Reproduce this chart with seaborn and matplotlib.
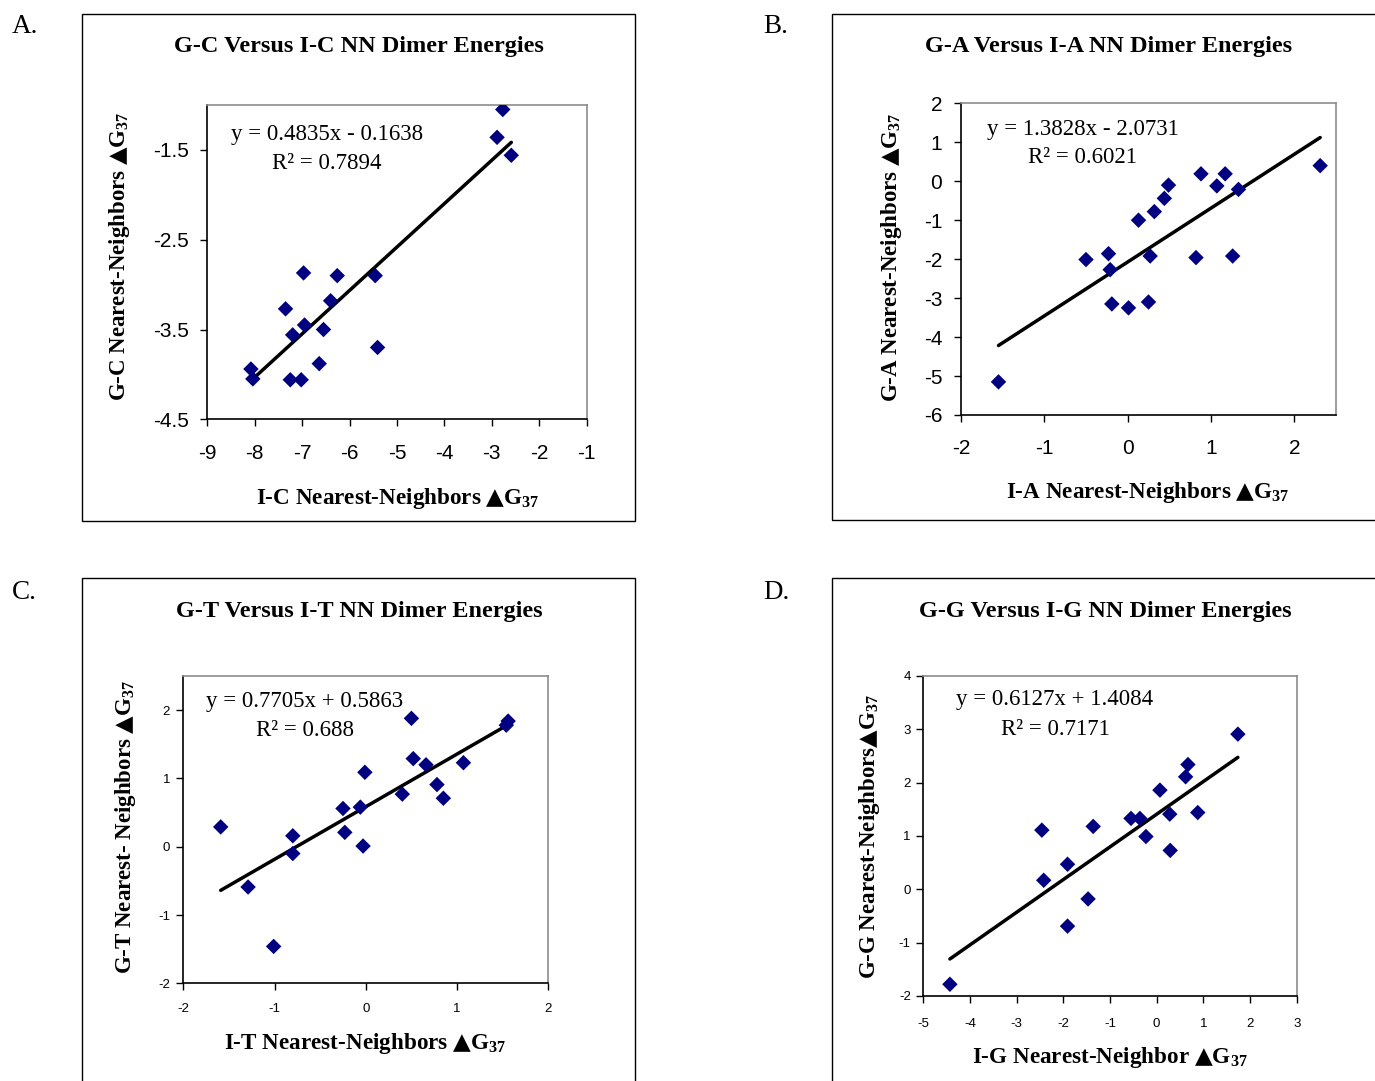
import numpy as np
import pandas as pd
import matplotlib
matplotlib.use("Agg")
import matplotlib.pyplot as plt
import seaborn as sns
from matplotlib.patches import Rectangle

# ---------------- data ----------------
ic_x = [-2.77, -2.89, -2.59, -6.97, -6.26, -5.46, -6.40, -7.35, -6.95, -6.55,
        -7.20, -5.41, -6.64, -8.08, -8.04, -7.25, -7.02]
gc_y = [-1.05, -1.36, -1.56, -2.87, -2.90, -2.90, -3.18, -3.27, -3.45, -3.50,
        -3.56, -3.70, -3.88, -3.94, -4.05, -4.06, -4.06]

ia_x = [2.31, 0.88, 1.17, 1.07, 0.49, 1.33, 0.44, 0.32, 0.13, -0.23,
        -0.50, 0.27, 0.82, 1.26, -0.21, -0.19, 0.01, 0.25, -1.55]
ga_y = [0.40, 0.19, 0.19, -0.12, -0.10, -0.21, -0.44, -0.78, -1.00, -1.86,
        -2.01, -1.92, -1.96, -1.92, -2.27, -3.15, -3.25, -3.10, -5.15]

it_x = [1.56, 1.54, 0.50, 0.52, 0.66, 1.07, -0.01, 0.78, 0.85, 0.40,
        -0.25, -0.06, -0.23, -0.03, -0.80, -0.80, -1.59, -1.29, -1.01]
gt_y = [1.84, 1.78, 1.88, 1.29, 1.20, 1.23, 1.09, 0.91, 0.71, 0.77,
        0.56, 0.58, 0.21, 0.01, 0.16, -0.10, 0.29, -0.59, -1.46]

ig_x = [1.74, 0.67, 0.62, 0.07, -0.55, -0.36, 0.28, 0.88, -0.23, 0.29,
        -1.36, -2.46, -1.91, -2.42, -1.47, -1.91, -4.43]
gg_y = [2.91, 2.34, 2.11, 1.86, 1.33, 1.33, 1.41, 1.44, 0.99, 0.73,
        1.18, 1.11, 0.47, 0.17, -0.18, -0.69, -1.78]

slopes = [0.4835, 1.3828, 0.7705, 0.6127]
intercepts = [-0.1638, -2.0731, 0.5863, 1.4084]
r_squared = ["0.7894", "0.6021", "0.688", "0.7171"]
equations = ["y = 0.4835x - 0.1638", "y = 1.3828x - 2.0731",
             "y = 0.7705x + 0.5863", "y = 0.6127x + 1.4084"]

titles = ["G-C Versus I-C NN Dimer Energies", "G-A Versus I-A NN Dimer Energies",
          "G-T Versus I-T NN Dimer Energies", "G-G Versus I-G NN Dimer Energies"]
TRI = "$\\mathsf{\u25B2}$"
xlabels = ["I-C Nearest-Neighbors " + TRI + "G$_{37}$",
           "I-A Nearest-Neighbors " + TRI + "G$_{37}$",
           "I-T Nearest-Neighbors " + TRI + "G$_{37}$",
           "I-G Nearest-Neighbor " + TRI + "G$_{37}$"]
ylabels = ["G-C Nearest-Neighbors " + TRI + "G$_{37}$",
           "G-A Nearest-Neighbors " + TRI + "G$_{37}$",
           "G-T Nearest- Neighbors " + TRI + "G$_{37}$",
           "G-G Nearest-Neighbors" + TRI + "G$_{37}$"]
letters = ["A.", "B.", "C.", "D."]

xticks = [[-9, -8, -7, -6, -5, -4, -3, -2, -1], [-2, -1, 0, 1, 2],
          [-2, -1, 0, 1, 2], [-5, -4, -3, -2, -1, 0, 1, 2, 3]]
yticks = [[-4.5, -3.5, -2.5, -1.5], [-6, -5, -4, -3, -2, -1, 0, 1, 2],
          [-2, -1, 0, 1, 2], [-2, -1, 0, 1, 2, 3, 4]]
xlims = [(-9, -1), (-2, 2.5), (-2, 2), (-5, 3)]
ylims = [(-4.5, -1.0), (-6, 2), (-2, 2.5), (-2, 4)]

# ---------------- style ----------------
sns.set_theme(style="white")
plt.rcParams["font.family"] = ["Liberation Serif", "DejaVu Sans"]
plt.rcParams["mathtext.fontset"] = "custom"
plt.rcParams["mathtext.rm"] = "Liberation Serif"
plt.rcParams["mathtext.sf"] = "DejaVu Sans:bold"
plt.rcParams["mathtext.default"] = "regular"
plt.rcParams["mathtext.fallback"] = "stix"

W, H = 1375, 1081
fig = plt.figure(figsize=(W / 100, H / 100), dpi=100)
fig.patch.set_facecolor("white")


def fx(px):
    return px / W


def fy(py):
    return 1 - py / H


# layout (pixels): plot area left, top, right, bottom
plot_boxes = [(207.3, 105, 586.7, 419.3), (961, 103.3, 1336, 415),
              (183.3, 676, 548.3, 983.3), (923.3, 676, 1296.7, 996)]
outer_boxes = [(82, 14, 635, 521), (832, 14, 1385, 520),
               (82, 578, 635, 1090), (832, 578, 1385, 1090)]
letter_pos = [(12, 33), (763, 33), (12, 599), (763, 599)]
title_pos = [(359, 52), (1109, 52), (359, 617), (1105, 617)]
xlabel_pos = [(398, 504), (1148, 498), (365, 1049), (1110, 1063)]
ylabel_pos = [(119, 256), (892, 257), (125, 827), (870, 836)]
eq_pos = [(327, 140, 169), (1083, 135, 163), (305, 706.5, 736.5), (1055, 705, 735)]
tick_size = [15, 15, 9.5, 9.5]
xpad = [12.5, 12.5, 9, 10.5]
ypad = [8, 8.5, 4.5, 4]

series = [(ic_x, gc_y), (ia_x, ga_y), (it_x, gt_y), (ig_x, gg_y)]

for i in range(4):
    # outer chart frame
    l, t, r, b = outer_boxes[i]
    fig.patches.append(Rectangle((fx(l), fy(b)), fx(r) - fx(l), fy(t) - fy(b),
                                 transform=fig.transFigure, fill=False,
                                 edgecolor="black", linewidth=1.0, zorder=0))
    l, t, r, b = plot_boxes[i]
    ax = fig.add_axes([fx(l), fy(b), fx(r) - fx(l), fy(t) - fy(b)])
    ax.set_facecolor("white")

    x, y = series[i]
    df = pd.DataFrame({"x": x, "y": y})
    xs = np.array([min(x), max(x)])
    fit = pd.DataFrame({"x": xs, "y": slopes[i] * xs + intercepts[i]})
    sns.lineplot(data=fit, x="x", y="y", color="black", linewidth=2.5, ax=ax, zorder=2)
    sns.scatterplot(data=df, x="x", y="y", marker="D", s=62, color="#000080",
                    edgecolor="none", linewidth=0, ax=ax, zorder=3)

    ax.set_xlim(*xlims[i])
    ax.set_ylim(*ylims[i])
    ax.set_xticks(xticks[i])
    ax.set_yticks(yticks[i])
    ax.set_xticklabels(["{:g}".format(v) for v in xticks[i]],
                       fontfamily="Liberation Sans", fontsize=tick_size[i])
    ax.set_yticklabels(["{:g}".format(v) for v in yticks[i]],
                       fontfamily="Liberation Sans", fontsize=tick_size[i])
    ax.tick_params(axis="x", direction="out", length=5, width=1, color="black",
                   bottom=True, top=False, pad=xpad[i], labelcolor="black")
    ax.tick_params(axis="y", direction="out", length=5, width=1, color="black",
                   left=True, right=False, pad=ypad[i], labelcolor="black")
    ax.set_xlabel("")
    ax.set_ylabel("")
    for side in ["left", "bottom"]:
        ax.spines[side].set_color("black")
        ax.spines[side].set_linewidth(1.2)
    for side in ["top", "right"]:
        ax.spines[side].set_color("#8c8c8c")
        ax.spines[side].set_linewidth(1.2)

    # equation + R^2
    cx, y1, y2 = eq_pos[i]
    fig.text(fx(cx), fy(y1), equations[i], ha="center", va="baseline",
             fontsize=16.5, color="black", family="Liberation Serif")
    fig.text(fx(cx), fy(y2), "R\u00b2 = " + r_squared[i], ha="center", va="baseline",
             fontsize=16.5, color="black", family="Liberation Serif")

    # titles, letters, axis labels
    lx, ly = letter_pos[i]
    fig.text(fx(lx), fy(ly), letters[i], ha="left", va="baseline", fontsize=19.5,
             color="black")
    tx, ty = title_pos[i]
    fig.text(fx(tx), fy(ty), titles[i], ha="center", va="baseline", fontsize=17.5,
             fontweight="bold", color="black", family="Liberation Serif")
    xx, xy = xlabel_pos[i]
    fig.text(fx(xx), fy(xy), xlabels[i], ha="center", va="baseline", fontsize=16.7,
             fontweight="bold", color="black", family="Liberation Serif")
    yx, yy = ylabel_pos[i]
    fig.text(fx(yx), fy(yy), ylabels[i], ha="center", va="center", rotation=90,
             fontsize=16.5, fontweight="bold", color="black", family="Liberation Serif")

fig.savefig("out.png", dpi=100, facecolor="white")
